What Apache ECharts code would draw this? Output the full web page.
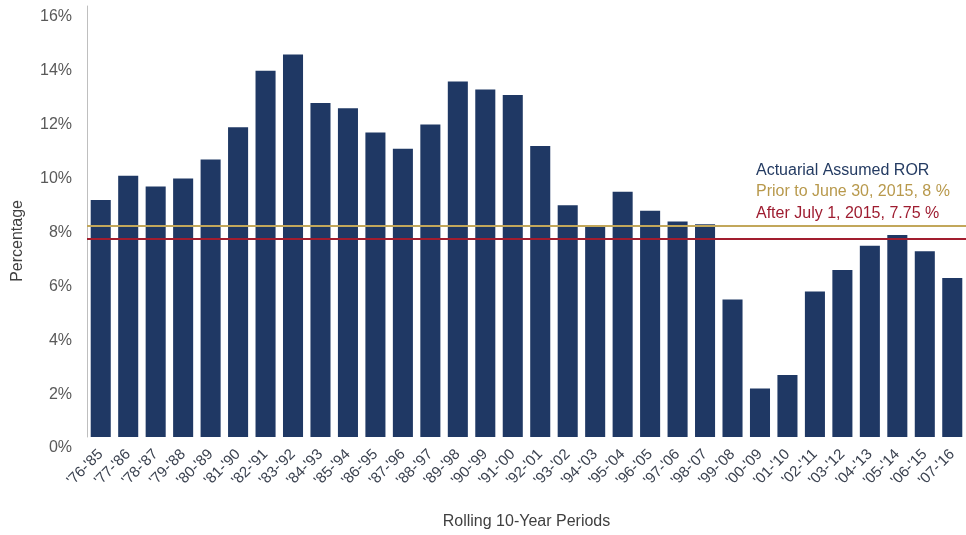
<!DOCTYPE html>
<html>
<head>
<meta charset="utf-8">
<script src="https://cdn.jsdelivr.net/npm/echarts@6/dist/echarts.min.js"></script>
<style>
html,body{margin:0;padding:0;background:#fff;}
#chart{width:966px;height:535px;}
</style>
</head>
<body>
<div id="chart"></div>
<script>
var categories = ["'76-'85","'77-'86","'78-'87","'79-'88","'80-'89","'81-'90","'82-'91","'83-'92",
  "'84-'93","'85-'94","'86-'95","'87-'96","'88-'97","'89-'98","'90-'99","'91-'00",
  "'92-'01","'93-'02","'94-'03","'95-'04","'96-'05","'97-'06","'98-'07","'99-'08",
  "'00-'09","'01-'10","'02-'11","'03-'12","'04-'13","'05-'14","'06-'15","'07-'16"];
var returns = [8.8, 9.7, 9.3, 9.6, 10.3, 11.5, 13.6, 14.2,
  12.4, 12.2, 11.3, 10.7, 11.6, 13.2, 12.9, 12.7,
  10.8, 8.6, 7.8, 9.1, 8.4, 8.0, 7.9, 5.1,
  1.8, 2.3, 5.4, 6.2, 7.1, 7.5, 6.9, 5.9];
var yTicks = [0, 2, 4, 6, 8, 10, 12, 14, 16];
var priorLineValue = 7.83;
var afterLineValue = 7.35;
var legendLines = ["Actuarial Assumed ROR", "Prior to June 30, 2015, 8 %", "After July 1, 2015, 7.75 %"];
var xAxisTitle = "Rolling 10-Year Periods";
var yAxisTitle = "Percentage";

var font = "'Liberation Sans', Arial, sans-serif";
var chart = echarts.init(document.getElementById('chart'));
chart.setOption({
  animation: false,
  backgroundColor: '#ffffff',
  grid: {left: 87, right: 0, top: 6, bottom: 98, containLabel: false},
  xAxis: {
    type: 'category',
    data: categories,
    axisLine: {show: false},
    axisTick: {show: false},
    axisLabel: {rotate: 45, interval: 0, margin: 15, fontSize: 15, color: '#3b4250', fontFamily: font},
    name: xAxisTitle,
    nameLocation: 'middle',
    nameGap: 77,
    nameTextStyle: {fontSize: 16, color: '#3f3f3f', fontFamily: font}
  },
  yAxis: {
    type: 'value',
    min: yTicks[0],
    max: yTicks[yTicks.length - 1],
    interval: 2,
    splitLine: {show: false},
    axisLine: {show: true, lineStyle: {color: '#bfbfbf', width: 1}},
    axisTick: {show: false},
    axisLabel: {
      formatter: function (v) { return v + '%'; },
      fontSize: 16, color: '#595959', fontFamily: font,
      margin: 15, verticalAlign: 'top', padding: [3, 0, 0, 0]
    }
  },
  series: [{
    type: 'bar',
    data: returns,
    barCategoryGap: '27%',
    itemStyle: {color: '#1f3864'},
    markLine: {
      silent: true,
      symbol: 'none',
      label: {show: false},
      data: [
        {yAxis: priorLineValue, lineStyle: {color: '#c2a75b', width: 2, type: 'solid'}},
        {yAxis: afterLineValue, lineStyle: {color: '#a11d2e', width: 2, type: 'solid'}}
      ]
    }
  }],
  graphic: [
    {type: 'text', left: 10, top: 200, rotation: Math.PI / 2,
     style: {text: yAxisTitle, fontSize: 16, fill: '#3f3f3f', fontFamily: font}},
    {type: 'text', x: 756, y: 171, style: {text: legendLines[0], fontSize: 16, fill: '#243b62', fontFamily: font, verticalAlign: 'middle'}},
    {type: 'text', x: 756, y: 192, style: {text: legendLines[1], fontSize: 16, fill: '#b8994c', fontFamily: font, verticalAlign: 'middle'}},
    {type: 'text', x: 756, y: 214, style: {text: legendLines[2], fontSize: 16, fill: '#9e1c30', fontFamily: font, verticalAlign: 'middle'}}
  ]
});
</script>
</body>
</html>
